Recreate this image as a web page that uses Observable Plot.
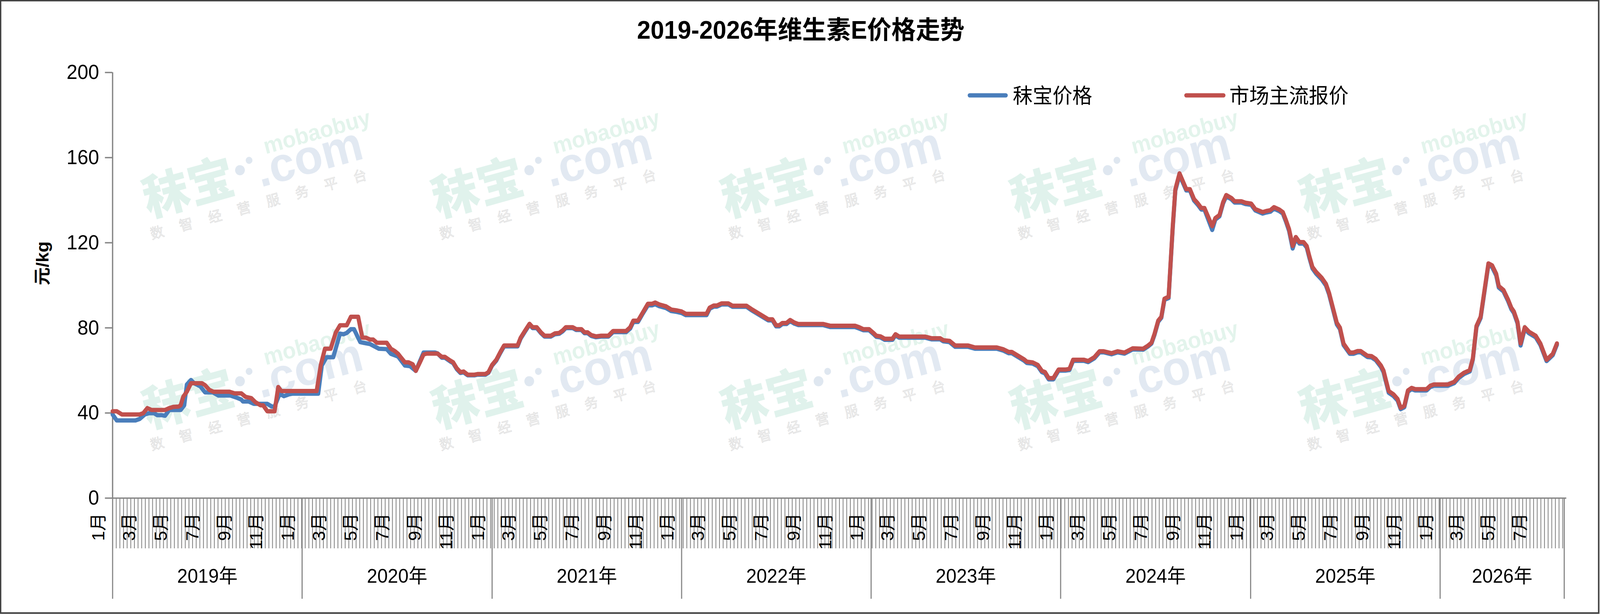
<!DOCTYPE html>
<html>
<head>
<meta charset="utf-8">
<script src="https://cdn.jsdelivr.net/npm/d3@7"></script>
<script src="https://cdn.jsdelivr.net/npm/@observablehq/plot@0.6"></script>
<style>
  html, body { margin: 0; padding: 0; background: #ffffff; overflow: hidden; }
  #wrap { position: absolute; left: 0; top: 0; width: 4270px; height: 1571px; overflow: hidden; background: #ffffff; transform-origin: 0 0; }
  #wrap svg.layer { position: absolute; left: 0; top: 0; }
  #chart { position: absolute; left: 0; top: 0; }
  #chart svg { background: transparent; max-width: none; }
</style>
</head>
<body>
<div id="wrap">
  <svg id="wm" class="layer" width="4270" height="1571"></svg>
  <div id="chart"></div>
  <svg id="over" class="layer" width="4270" height="1571" style="pointer-events:none"></svg>
</div>
<script>
// ---------------- data ----------------
const titleText = "2019-2026年维生素E价格走势";
const yLabel = "元/kg";
const seriesNames = ["秣宝价格", "市场主流报价"];
const seriesColors = ["#4a7ebb", "#c0504d"];
const yTicks = [0, 40, 80, 120, 160, 200];
const years = [2019, 2020, 2021, 2022, 2023, 2024, 2025, 2026];
const yearLabels = ["2019年", "2020年", "2021年", "2022年", "2023年", "2024年", "2025年", "2026年"];
const labelMonths = [1, 3, 5, 7, 9, 11];
const monthLabels = ["1月", "3月", "5月", "7月", "9月", "11月"];
const axisStart = "2019-01-01";
const axisEnd = "2026-08-28";

// 市场主流报价 (red)
const marketPrice = [
["2019-01-01",40.8],["2019-01-09",40.8],["2019-01-19",39.3],["2019-02-22",39.3],["2019-03-01",39.9],["2019-03-09",42.3],["2019-03-17",41.4],["2019-04-12",41.4],["2019-04-20",42.3],["2019-04-28",42.9],["2019-05-08",43.0],["2019-05-12",43.6],["2019-05-17",47.6],["2019-05-24",50.0],["2019-06-01",54.0],["2019-06-22",54.0],["2019-06-28",53.1],["2019-07-06",50.9],["2019-07-14",50.0],["2019-08-14",50.0],["2019-08-24",49.2],["2019-09-06",49.2],["2019-09-14",47.6],["2019-09-25",47.0],["2019-10-03",45.1],["2019-10-13",43.6],["2019-10-18",43.6],["2019-10-26",40.8],["2019-11-09",40.8],["2019-11-16",52.2],["2019-11-22",50.3],
["2020-01-29",50.3],["2020-02-06",62.6],["2020-02-14",70.2],["2020-02-25",70.2],["2020-03-06",77.9],["2020-03-14",81.2],["2020-03-27",81.2],["2020-04-04",85.2],["2020-04-18",85.2],["2020-04-26",75.4],["2020-05-03",75.4],["2020-05-11",74.5],["2020-05-17",74.5],["2020-05-24",73.0],["2020-06-12",73.0],["2020-06-20",70.2],["2020-06-28",69.0],["2020-07-04",67.8],["2020-07-10",65.9],["2020-07-17",63.8],["2020-07-24",63.8],["2020-08-01",62.9],["2020-08-07",59.8],["2020-08-15",63.8],["2020-08-22",67.5],["2020-08-28",67.9],["2020-09-18",67.9],["2020-09-26",66.4],["2020-10-02",66.4],["2020-10-12",64.7],["2020-10-18",63.8],["2020-10-25",61.0],["2020-11-01",59.2],["2020-11-07",59.5],["2020-11-15",58.0],["2020-11-28",58.0],["2020-12-04",58.3],["2020-12-19",58.3],["2020-12-25",59.2],
["2021-01-01",62.6],["2021-01-09",65.0],["2021-01-17",68.7],["2021-01-24",71.7],["2021-02-19",71.7],["2021-02-25",75.4],["2021-03-05",78.5],["2021-03-14",81.9],["2021-03-20",80.3],["2021-03-28",80.3],["2021-04-05",77.9],["2021-04-12",76.3],["2021-04-24",76.3],["2021-05-02",77.4],["2021-05-10",77.6],["2021-05-17",78.8],["2021-05-23",80.3],["2021-06-05",80.3],["2021-06-12",79.4],["2021-06-22",79.4],["2021-06-28",77.9],["2021-07-04",77.9],["2021-07-11",76.6],["2021-07-20",76.0],["2021-07-30",76.3],["2021-08-13",76.3],["2021-08-22",78.5],["2021-09-16",78.5],["2021-09-24",80.3],["2021-09-30",83.4],["2021-10-09",83.4],["2021-10-17",86.7],["2021-10-28",91.3],["2021-11-05",91.3],["2021-11-11",91.9],["2021-11-19",91.0],["2021-12-02",90.1],["2021-12-12",88.6],["2021-12-23",88.2],
["2022-01-01",87.7],["2022-01-09",86.6],["2022-02-18",86.6],["2022-02-24",89.5],["2022-03-04",90.5],["2022-03-10",90.5],["2022-03-19",91.5],["2022-04-01",91.5],["2022-04-09",90.4],["2022-05-06",90.4],["2022-05-15",88.9],["2022-05-25",87.4],["2022-06-17",84.0],["2022-06-25",84.0],["2022-07-02",81.2],["2022-07-08",81.2],["2022-07-14",82.3],["2022-07-22",82.3],["2022-07-29",83.7],["2022-08-06",82.5],["2022-08-14",81.8],["2022-10-01",81.8],["2022-10-14",81.0],["2022-12-01",81.0],["2022-12-09",80.3],["2022-12-17",79.4],["2022-12-28",79.4],
["2023-01-06",77.5],["2023-01-11",76.3],["2023-01-19",76.0],["2023-01-27",74.9],["2023-02-11",74.9],["2023-02-17",77.0],["2023-02-24",75.9],["2023-04-15",75.9],["2023-04-28",75.1],["2023-05-14",75.1],["2023-05-20",74.2],["2023-06-01",73.9],["2023-06-12",71.7],["2023-07-07",71.7],["2023-07-20",70.8],["2023-08-31",70.8],["2023-09-13",69.9],["2023-09-23",68.7],["2023-09-29",68.7],["2023-10-22",65.3],["2023-10-28",64.1],["2023-11-08",63.8],["2023-11-18",62.6],["2023-11-26",59.8],["2023-12-02",59.2],["2023-12-09",56.4],["2023-12-18",56.4],["2023-12-28",60.4],
["2024-01-10",60.4],["2024-01-18",60.7],["2024-01-25",65.0],["2024-02-15",65.0],["2024-02-23",64.4],["2024-03-06",66.2],["2024-03-16",69.0],["2024-03-24",69.0],["2024-04-08",68.1],["2024-04-20",69.0],["2024-05-03",68.4],["2024-05-19",70.4],["2024-06-08",70.2],["2024-06-17",71.6],["2024-06-24",73.0],["2024-06-30",77.3],["2024-07-07",83.4],["2024-07-13",85.2],["2024-07-19",93.7],["2024-07-27",94.6],["2024-08-04",127.8],["2024-08-09",145.2],["2024-08-17",152.6],["2024-08-30",145.2],["2024-09-06",145.2],["2024-09-14",140.5],["2024-09-21",138.6],["2024-09-28",136.3],["2024-10-04",136.3],["2024-10-19",127.8],["2024-10-25",131.6],["2024-11-02",133.0],["2024-11-09",139.1],["2024-11-15",142.4],["2024-11-25",141.0],["2024-12-01",139.5],["2024-12-14",139.5],["2024-12-22",138.8],
["2025-01-02",138.4],["2025-01-10",135.8],["2025-01-24",134.4],["2025-01-31",134.9],["2025-02-08",135.3],["2025-02-15",136.7],["2025-02-25",135.6],["2025-03-04",134.4],["2025-03-10",130.6],["2025-03-16",126.4],["2025-03-23",118.5],["2025-03-29",122.7],["2025-04-05",120.3],["2025-04-13",120.3],["2025-04-19",118.5],["2025-04-24",113.8],["2025-04-30",108.6],["2025-05-07",106.3],["2025-05-18",103.5],["2025-05-26",100.7],["2025-06-01",96.5],["2025-06-08",89.9],["2025-06-16",82.4],["2025-06-22",80.1],["2025-06-29",72.6],["2025-07-11",68.4],["2025-07-18",68.4],["2025-07-26",69.1],["2025-08-01",69.1],["2025-08-14",66.9],["2025-08-22",66.7],["2025-08-30",65.4],["2025-09-09",62.3],["2025-09-14",59.9],["2025-09-18",56.0],["2025-09-24",50.3],["2025-10-03",48.8],["2025-10-11",46.6],["2025-10-17",42.4],["2025-10-24",43.3],["2025-10-31",50.6],["2025-11-07",51.8],["2025-11-14",51.2],["2025-12-06",51.2],["2025-12-13",52.8],["2025-12-20",53.4],
["2026-01-16",53.4],["2026-01-28",54.6],["2026-02-06",57.1],["2026-02-16",58.9],["2026-02-27",60.1],["2026-03-05",65.6],["2026-03-12",80.9],["2026-03-20",85.2],["2026-04-04",110.3],["2026-04-11",109.4],["2026-04-19",105.4],["2026-04-24",99.6],["2026-05-03",97.8],["2026-05-12",93.2],["2026-05-18",89.5],["2026-05-23",87.7],["2026-05-30",82.8],["2026-06-05",72.7],["2026-06-13",80.3],["2026-06-21",78.2],["2026-07-04",76.3],["2026-07-13",72.7],["2026-07-25",65.0],["2026-08-06",67.8],["2026-08-14",72.7]
];

// 秣宝价格 (blue)
const mobaoPrice = [
["2019-01-01",39.3],["2019-01-09",36.5],["2019-02-14",36.5],["2019-02-22",37.2],["2019-03-04",39.3],["2019-03-12",39.9],["2019-03-22",39.9],["2019-03-28",39.0],["2019-04-05",39.0],["2019-04-12",38.7],["2019-04-20",41.4],["2019-05-12",41.4],["2019-05-19",43.6],["2019-05-24",53.4],["2019-06-01",55.5],["2019-06-07",54.0],["2019-06-19",52.5],["2019-06-28",49.7],["2019-07-13",49.7],["2019-07-24",48.2],["2019-08-16",48.2],["2019-08-27",47.3],["2019-09-06",46.3],["2019-09-09",45.4],["2019-09-20",45.4],["2019-09-30",44.3],["2019-10-26",44.3],["2019-11-04",43.0],["2019-11-09",43.0],["2019-11-19",49.1],["2019-11-27",47.9],["2019-12-07",48.8],["2019-12-14",49.1],
["2020-02-01",49.1],["2020-02-08",62.3],["2020-02-17",66.2],["2020-03-01",66.2],["2020-03-14",77.3],["2020-03-21",77.0],["2020-03-27",77.6],["2020-04-04",79.4],["2020-04-10",79.4],["2020-04-22",73.3],["2020-04-28",73.0],["2020-05-11",72.4],["2020-05-28",70.2],["2020-06-12",70.0],["2020-06-20",67.8],["2020-07-04",66.5],["2020-07-17",62.3],["2020-07-27",62.0],["2020-08-07",59.8],["2020-08-22",68.4],["2020-09-13",68.4],["2020-09-18",68.0],["2020-09-26",66.0],["2020-10-02",66.0],["2020-10-12",64.3],["2020-10-18",63.4],["2020-10-25",60.6],["2020-11-01",58.8],["2020-11-07",59.1],["2020-11-15",57.7],["2020-11-28",57.7],["2020-12-04",58.0],["2020-12-19",58.0],["2020-12-25",58.9],
["2021-01-01",62.3],["2021-01-09",64.6],["2021-01-17",68.3],["2021-01-24",71.3],["2021-02-19",71.3],["2021-02-25",75.0],["2021-03-05",78.1],["2021-03-14",81.5],["2021-03-20",79.9],["2021-03-28",79.9],["2021-04-05",77.5],["2021-04-12",75.9],["2021-04-24",75.9],["2021-05-02",77.0],["2021-05-10",77.2],["2021-05-17",78.4],["2021-05-23",79.9],["2021-06-05",79.9],["2021-06-12",79.0],["2021-06-22",79.0],["2021-06-28",77.5],["2021-07-04",77.5],["2021-07-11",76.2],["2021-07-20",75.6],["2021-07-30",75.9],["2021-08-13",75.9],["2021-08-22",78.0],["2021-09-16",78.0],["2021-09-24",79.7],["2021-09-30",82.8],["2021-10-09",82.8],["2021-10-17",86.2],["2021-10-28",90.6],["2021-11-05",90.6],["2021-11-11",91.1],["2021-11-19",90.2],["2021-12-02",89.3],["2021-12-12",87.9],["2021-12-23",87.5],
["2022-01-01",87.0],["2022-01-09",86.0],["2022-02-18",86.0],["2022-02-24",89.0],["2022-03-04",90.0],["2022-03-10",90.0],["2022-03-19",91.0],["2022-04-01",91.0],["2022-04-09",89.9],["2022-05-06",89.9],["2022-05-15",88.4],["2022-05-25",86.9],["2022-06-17",83.5],["2022-06-25",83.5],["2022-07-02",80.7],["2022-07-08",80.7],["2022-07-14",81.8],["2022-07-22",81.8],["2022-07-29",83.2],["2022-08-06",82.0],["2022-08-14",81.3],["2022-10-01",81.3],["2022-10-14",80.4],["2022-12-01",80.4],["2022-12-09",79.7],["2022-12-17",78.9],["2022-12-28",78.9],
["2023-01-06",77.0],["2023-01-11",75.8],["2023-01-19",75.5],["2023-01-27",74.4],["2023-02-11",74.4],["2023-02-17",76.5],["2023-02-24",75.4],["2023-04-15",75.4],["2023-04-28",74.6],["2023-05-14",74.6],["2023-05-20",73.7],["2023-06-01",73.3],["2023-06-12",71.1],["2023-07-07",71.1],["2023-07-20",70.2],["2023-08-31",70.2],["2023-09-13",69.3],["2023-09-23",68.1],["2023-09-29",68.1],["2023-10-22",64.7],["2023-10-28",63.5],["2023-11-08",63.2],["2023-11-18",62.0],["2023-11-26",59.2],["2023-12-02",58.6],["2023-12-09",55.8],["2023-12-18",55.8],["2023-12-28",59.9],
["2024-01-10",59.9],["2024-01-18",60.2],["2024-01-25",64.5],["2024-02-15",64.5],["2024-02-23",63.9],["2024-03-06",65.7],["2024-03-16",68.5],["2024-03-24",68.5],["2024-04-08",67.6],["2024-04-20",68.5],["2024-05-03",67.9],["2024-05-19",69.9],["2024-06-08",69.8],["2024-06-17",71.2],["2024-06-24",72.6],["2024-06-30",76.8],["2024-07-07",82.9],["2024-07-13",84.7],["2024-07-19",93.2],["2024-07-27",94.0],["2024-08-04",127.0],["2024-08-09",144.5],["2024-08-17",151.8],["2024-08-30",144.6],["2024-09-06",144.6],["2024-09-14",139.8],["2024-09-21",137.9],["2024-09-28",135.6],["2024-10-04",135.6],["2024-10-19",126.0],["2024-10-25",130.9],["2024-11-02",132.4],["2024-11-09",138.5],["2024-11-15",141.8],["2024-11-25",140.4],["2024-12-01",138.9],["2024-12-14",138.9],["2024-12-22",138.2],
["2025-01-02",137.8],["2025-01-10",135.2],["2025-01-24",133.7],["2025-01-31",134.2],["2025-02-08",134.6],["2025-02-15",136.0],["2025-02-25",134.9],["2025-03-04",133.7],["2025-03-10",129.9],["2025-03-16",125.6],["2025-03-23",117.3],["2025-03-29",122.0],["2025-04-05",119.6],["2025-04-13",119.6],["2025-04-19",117.8],["2025-04-24",113.0],["2025-04-30",107.9],["2025-05-07",105.5],["2025-05-18",102.7],["2025-05-26",99.9],["2025-06-01",95.8],["2025-06-08",89.2],["2025-06-16",81.6],["2025-06-22",79.4],["2025-06-29",71.9],["2025-07-11",67.8],["2025-07-18",67.8],["2025-07-26",68.5],["2025-08-01",68.5],["2025-08-14",66.3],["2025-08-22",66.1],["2025-08-30",64.8],["2025-09-09",61.6],["2025-09-14",59.2],["2025-09-18",55.2],["2025-09-24",49.5],["2025-10-03",48.0],["2025-10-11",45.9],["2025-10-17",41.8],["2025-10-24",42.7],["2025-10-31",50.0],["2025-11-07",51.2],["2025-11-14",50.6],["2025-12-06",50.6],["2025-12-13",52.2],["2025-12-20",52.8],
["2026-01-16",52.8],["2026-01-28",54.0],["2026-02-06",56.5],["2026-02-16",58.3],["2026-02-27",59.5],["2026-03-05",65.0],["2026-03-12",80.3],["2026-03-20",84.6],["2026-04-04",109.6],["2026-04-11",108.6],["2026-04-19",104.6],["2026-04-24",98.9],["2026-05-03",97.1],["2026-05-12",92.5],["2026-05-18",88.8],["2026-05-23",87.0],["2026-05-30",82.1],["2026-06-05",71.7],["2026-06-13",79.5],["2026-06-21",77.5],["2026-07-04",75.6],["2026-07-13",72.0],["2026-07-25",64.4],["2026-08-06",67.2],["2026-08-14",72.1]
];

// ---------------- build ----------------
const parse = d3.utcParse("%Y-%m-%d");
const rows = (arr, name) => arr.map(([d, v]) => ({date: parse(d), value: v, series: name}));
const blueRows = rows(mobaoPrice, seriesNames[0]);
const redRows = rows(marketPrice, seriesNames[1]);
const xStart = parse(axisStart), xEnd = parse(axisEnd);

const weekTicks = d3.range(0, Math.floor((xEnd - xStart) / (7 * 864e5)) + 1)
  .map(i => new Date(+xStart + i * 7 * 864e5));
const yearStarts = years.map(y => new Date(Date.UTC(y, 0, 1)));
const yearBounds = [...yearStarts, xEnd];
const yearTable = years.map((y, i) => ({
  date: new Date((+yearBounds[i] + +yearBounds[i + 1]) / 2),
  label: yearLabels[i]
}));
const monthTable = [];
years.forEach(y => labelMonths.forEach((m, j) => {
  const d = new Date(Date.UTC(y, m - 1, 1));
  if (d < xEnd) monthTable.push({date: d, label: monthLabels[j]});
}));

const FONT = "'Liberation Sans', Arial, 'Noto Sans CJK SC', sans-serif";
const GRAY = "#868686";
const W = 4270, H = 1571, ML = 300, MR = 96, MT = 185, MB = 297;
const frameH = H - MT - MB;

const chart = Plot.plot({
  width: W, height: H,
  marginLeft: ML, marginRight: MR, marginTop: MT, marginBottom: MB,
  style: {background: "transparent", fontFamily: FONT, color: "#000", maxWidth: "none"},
  x: {type: "utc", domain: [xStart, xEnd], axis: null},
  y: {domain: [0, 200]},
  marks: [
    Plot.ruleX(weekTicks, {x: d => d, stroke: GRAY, strokeWidth: 2.2, insetTop: frameH, insetBottom: -129}),
    Plot.ruleX(yearBounds, {x: d => d, stroke: GRAY, strokeWidth: 3, insetTop: frameH, insetBottom: -258}),
    Plot.ruleY([0], {stroke: GRAY, strokeWidth: 3.5, insetRight: -6}),
    Plot.ruleX([xStart], {stroke: GRAY, strokeWidth: 3.5}),
    Plot.axisY(yTicks, {tickSize: 20, tickPadding: 16, fontSize: 52, stroke: GRAY, strokeWidth: 3.5, fill: "#000", label: null}),
    Plot.text(monthTable, {x: "date", text: "label", frameAnchor: "bottom", dy: 38, dx: -22, rotate: -90, textAnchor: "end", fontSize: 46, fill: "#000"}),
    Plot.text(yearTable, {x: "date", text: "label", frameAnchor: "bottom", dy: 216, fontSize: 50, fill: "#000"}),
    Plot.text([yLabel], {frameAnchor: "left", dx: -186, rotate: -90, fontSize: 46, fontWeight: "bold", fill: "#000"}),
    Plot.line(blueRows, {x: "date", y: "value", stroke: seriesColors[0], strokeWidth: 11, strokeLinejoin: "round", strokeLinecap: "round"}),
    Plot.line(redRows, {x: "date", y: "value", stroke: seriesColors[1], strokeWidth: 11, strokeLinejoin: "round", strokeLinecap: "round"})
  ]
});
document.getElementById("chart").appendChild(chart);

// ---------------- watermark (behind) ----------------
const wm = d3.select("#wm");
const wmCols = [395, 1167, 1939, 2711, 3483];
const wmRows = [555, 1095];
wmRows.forEach(wy => wmCols.forEach(wx => {
  const g = wm.append("g").attr("transform", `translate(${wx},${wy}) rotate(-15)`);
  g.append("text").attr("x", 0).attr("y", 0).attr("font-family", "'Noto Sans CJK SC', sans-serif")
    .attr("font-weight", 900).attr("font-size", 124).attr("fill", "#e0f2ec").text("秣宝");
  g.append("circle").attr("cx", 268).attr("cy", -52).attr("r", 13).attr("fill", "#dfe7f0");
  g.append("circle").attr("cx", 298).attr("cy", -70).attr("r", 9).attr("fill", "#dfe7f0");
  g.append("text").attr("x", 310).attr("y", 5).attr("font-family", "'Liberation Sans', Arial, sans-serif")
    .attr("font-weight", "bold").attr("font-size", 124).attr("fill", "#e2e9f2").text(".com");
  g.append("text").attr("x", 345).attr("y", -74).attr("font-family", "'Liberation Sans', Arial, sans-serif")
    .attr("font-weight", "bold").attr("font-size", 58).attr("fill", "#e3f4ec").text("mobaobuy");
  g.append("text").attr("x", -5).attr("y", 58).attr("font-family", "'Noto Sans CJK SC', sans-serif")
    .attr("font-size", 36).attr("letter-spacing", 44).attr("fill", "#f3f3f3").attr("stroke", "#dcdcdc")
    .attr("stroke-width", 1).text("数智经营服务平台");
}));

// ---------------- title, legend, border (front) ----------------
const ov = d3.select("#over");
ov.append("rect").attr("x", 1.5).attr("y", 1.5).attr("width", W - 5).attr("height", H - 4)
  .attr("fill", "none").attr("stroke", "#404040").attr("stroke-width", 4);
ov.append("text").attr("x", 2137).attr("y", 76).attr("text-anchor", "middle").attr("dominant-baseline", "central")
  .attr("font-family", FONT).attr("font-weight", "bold").attr("font-size", 65).attr("fill", "#000").text(titleText);
const legendItems = [
  {x1: 2588, x2: 2684, tx: 2703},
  {x1: 3166, x2: 3265, tx: 3281}
];
legendItems.forEach((it, i) => {
  ov.append("line").attr("x1", it.x1).attr("x2", it.x2).attr("y1", 244).attr("y2", 244)
    .attr("stroke", seriesColors[i]).attr("stroke-width", 11).attr("stroke-linecap", "round");
  ov.append("text").attr("x", it.tx).attr("y", 246).attr("dominant-baseline", "central")
    .attr("font-family", FONT).attr("font-size", 53).attr("fill", "#000").text(seriesNames[i]);
});

// fit the 4270x1571 drawing to the actual viewport
function fit() {
  const vw = window.innerWidth || W, vh = window.innerHeight || H;
  document.getElementById("wrap").style.transform = `scale(${vw / W}, ${vh / H})`;
}
fit();
window.addEventListener("resize", fit);
</script>
</body>
</html>
